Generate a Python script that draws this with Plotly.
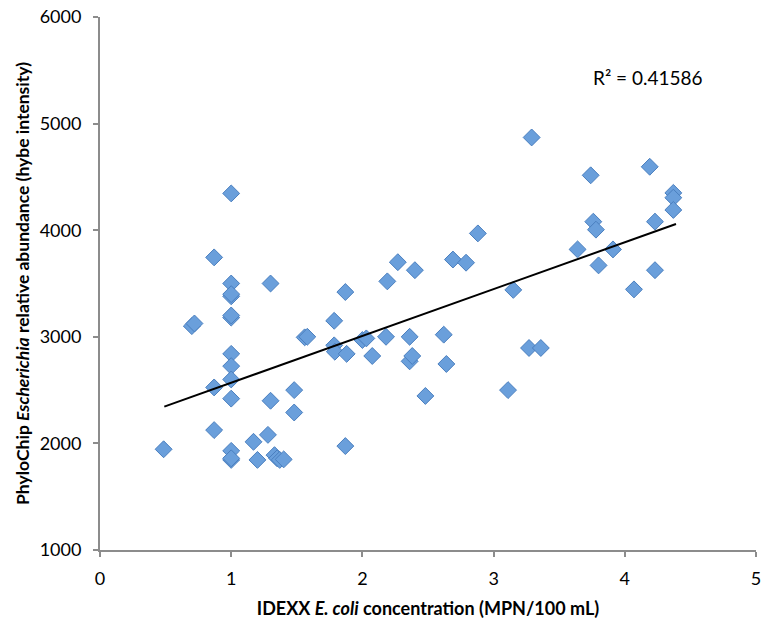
import plotly.graph_objects as go

# IDEXX E. coli concentration (log MPN/100 mL) vs PhyloChip intensity
idexx = [
    0.485, 0.70, 0.72, 0.87, 0.87, 0.87, 1.0, 1.0, 1.0, 1.0, 1.0, 1.0,
    1.0, 1.0, 1.0, 1.0, 1.0, 1.0, 1.0, 1.17, 1.2, 1.28, 1.3, 1.3,
    1.33, 1.35, 1.37, 1.40, 1.48, 1.48, 1.56, 1.58, 1.785, 1.785, 1.79, 1.87,
    1.87, 1.88, 2.0, 2.03, 2.075, 2.18, 2.19, 2.27, 2.36, 2.36, 2.38, 2.40,
    2.48, 2.62, 2.64, 2.69, 2.79, 2.88, 3.11, 3.15, 3.27, 3.29, 3.36, 3.64,
    3.74, 3.76, 3.78, 3.80, 3.91, 4.07, 4.19, 4.23, 4.23, 4.37, 4.37, 4.37,
]
hybe = [
    1945, 3100, 3125, 3745, 2525, 2125, 4345, 3500, 3380, 3400, 3180, 3200,
    2840, 2725, 2600, 2420, 1930, 1845, 1860, 2015, 1845, 2080, 3500, 2400,
    1890, 1860, 1845, 1850, 2500, 2290, 2995, 3000, 3150, 2920, 2860, 3420,
    1975, 2840, 2970, 2985, 2820, 3000, 3520, 3700, 3000, 2770, 2820, 3625,
    2445, 3020, 2745, 3725, 3695, 3970, 2500, 3440, 2895, 4870, 2895, 3820,
    4515, 4080, 4005, 3670, 3820, 3445, 4595, 4080, 3625, 4350, 4305, 4190,
]

# linear trendline ends
trend_x = [0.49, 4.39]
trend_y = [2345, 4058]
r_squared = "R² = 0.41586"

FONT = "Lato, DejaVu Sans"

fig = go.Figure()

fig.add_trace(
    go.Scatter(
        x=idexx,
        y=hybe,
        mode="markers",
        marker=dict(
            symbol="diamond",
            size=13,
            color="#6a9fdb",
            line=dict(color="#4a7fbf", width=1),
        ),
        showlegend=False,
    )
)

fig.add_trace(
    go.Scatter(
        x=trend_x,
        y=trend_y,
        mode="lines",
        line=dict(color="black", width=2),
        showlegend=False,
    )
)

fig.add_annotation(
    x=0.835, y=0.887, xref="paper", yref="paper",
    text=r_squared, showarrow=False, xanchor="center", yanchor="middle",
    font=dict(family=FONT, size=19, color="black"),
)

axis_style = dict(
    showgrid=False,
    zeroline=False,
    showline=True,
    linecolor="#8c8c8c",
    linewidth=2,
    ticks="outside",
    tickcolor="#8c8c8c",
    tickwidth=2,
    ticklen=5,
    automargin=False,
    ticklabeloverflow="allow",
    tickfont=dict(family=FONT, size=18, color="black"),
)

fig.update_xaxes(
    range=[0, 5], tickvals=[0, 1, 2, 3, 4, 5],
    ticklabelstandoff=6,
    title=dict(
        text="<b>IDEXX <i>E. coli</i> concentration (MPN/100 mL)</b>",
        font=dict(family=FONT, size=18, color="black"),
    ),
    **axis_style,
)
fig.update_yaxes(
    range=[1000, 6000], tickvals=[1000, 2000, 3000, 4000, 5000, 6000],
    ticklabelstandoff=8,
    title=dict(
        text="<b>PhyloChip <i>Escherichia</i> relative abundance (hybe intensity)</b>",
        font=dict(family=FONT, size=17.5, color="black"),
        standoff=6,
    ),
    **axis_style,
)

fig.update_layout(
    width=761,
    height=627,
    margin=dict(l=100, r=5, t=17, b=77),
    plot_bgcolor="white",
    paper_bgcolor="white",
)

# drop the default body margin so the figure fills the window
fig.write_html(
    "out.html",
    config={"displayModeBar": False},
    post_script="document.body.style.margin='0';document.body.style.overflow='hidden';",
)
